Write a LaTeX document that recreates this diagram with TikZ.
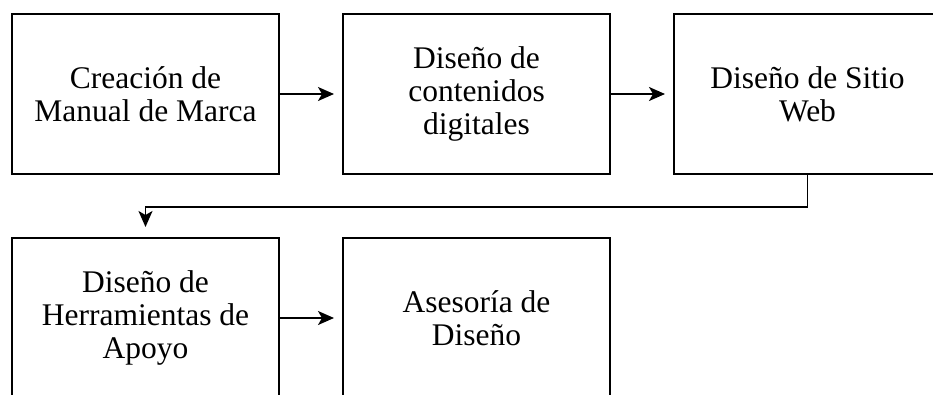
\documentclass[tikz,border=0pt]{standalone}
\usepackage{fontspec}
\setmainfont{Liberation Serif}
\usetikzlibrary{arrows.meta, positioning}

\begin{document}
\begin{tikzpicture}[x=1pt, y=1pt,
    etapa/.style={draw, line width=2pt, minimum width=267pt, minimum height=160pt,
        inner sep=0pt, align=center, font=\fontsize{31.5}{33}\selectfont},
    flecha/.style={line width=1.6pt, -{Stealth[length=16pt, width=14pt, inset=4pt]}}]
    \useasboundingbox (0,0) rectangle (933,-394);

    % First row of steps
    \node[etapa] (manual) at (145.5,-94) {Creación de\\Manual de Marca};
    \node[etapa, right=62pt of manual] (contenidos) {Diseño de\\contenidos\\digitales};
    \node[etapa, right=62pt of contenidos] (sitio) {Diseño de Sitio\\Web};

    % Second row of steps
    \node[etapa, below=62pt of manual] (herramientas) {Diseño de\\Herramientas de\\Apoyo};
    \node[etapa, right=62pt of herramientas] (asesoria) {Asesoría de\\Diseño};

    % Connectors
    \draw[flecha, shorten >=8pt] (manual) -- (contenidos);
    \draw[flecha, shorten >=8pt] (contenidos) -- (sitio);
    \draw[flecha, shorten >=10pt] (sitio.south) -- ++(0,-32) -| (herramientas.north);
    \draw[flecha, shorten >=8pt] (herramientas) -- (asesoria);
\end{tikzpicture}
\end{document}
